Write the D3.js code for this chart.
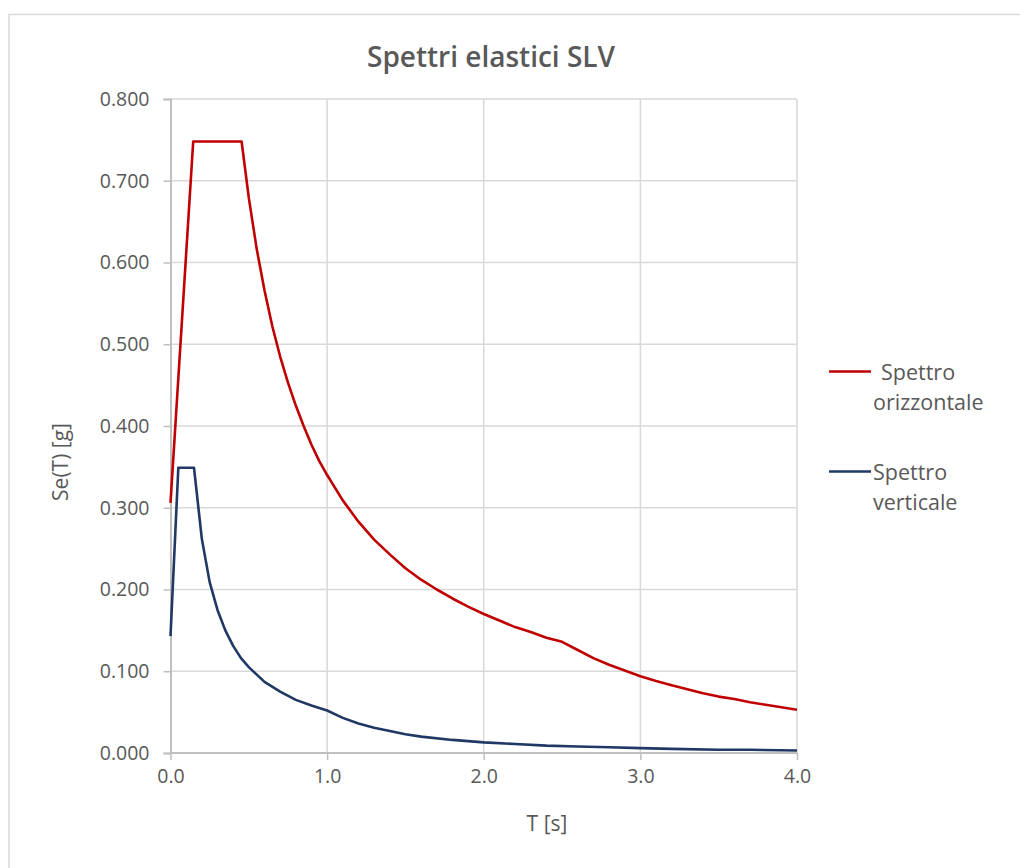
<!DOCTYPE html>
<html>
<head>
<meta charset="utf-8">
<script src="https://cdn.jsdelivr.net/npm/d3@7"></script>
<style>
  body { margin: 0; background: #fff; }
  text { font-family: "Open Sans", "DejaVu Sans", sans-serif; fill: #595959; }
</style>
</head>
<body>
<div id="chart"></div>
<script>
// data
var tOrizz = [0.0, 0.145, 0.454, 0.5, 0.55, 0.6, 0.65, 0.7, 0.75, 0.8, 0.85, 0.9, 0.95, 1.0,
  1.1, 1.2, 1.3, 1.4, 1.5, 1.6, 1.7, 1.8, 1.9, 2.0, 2.1, 2.2, 2.3, 2.4, 2.5,
  2.6, 2.7, 2.8, 2.9, 3.0, 3.1, 3.2, 3.3, 3.4, 3.5, 3.6, 3.7, 3.8, 3.9, 4.0]
var seOrizz = [0.306, 0.748, 0.748, 0.679, 0.617, 0.566, 0.522, 0.485, 0.453, 0.425, 0.400, 0.377, 0.357, 0.340,
  0.309, 0.283, 0.261, 0.243, 0.226, 0.212, 0.200, 0.189, 0.179, 0.170, 0.162, 0.154, 0.148, 0.141, 0.136,
  0.126, 0.116, 0.108, 0.101, 0.094, 0.088, 0.083, 0.078, 0.073, 0.069, 0.066, 0.062, 0.059, 0.056, 0.053]

var tVert = [0.0, 0.05, 0.15, 0.2, 0.25, 0.3, 0.35, 0.4, 0.45, 0.5, 0.6, 0.7, 0.8, 0.9, 1.0,
  1.1, 1.2, 1.3, 1.4, 1.5, 1.6, 1.8, 2.0, 2.2, 2.4, 2.6, 2.8, 3.0, 3.2, 3.5, 3.7, 4.0]
var seVert = [0.143, 0.349, 0.349, 0.262, 0.209, 0.175, 0.150, 0.131, 0.116, 0.105, 0.087, 0.075, 0.065, 0.058, 0.052,
  0.043, 0.036, 0.031, 0.027, 0.023, 0.020, 0.016, 0.013, 0.011, 0.009, 0.008, 0.007, 0.006, 0.005, 0.004, 0.004, 0.003]

var xTicks = [0, 1, 2, 3, 4]
var yTicks = [0, 0.1, 0.2, 0.3, 0.4, 0.5, 0.6, 0.7, 0.8]
var legendText = [["Spettro", "orizzontale"], ["Spettro", "verticale"]]
var seriesColors = ["#c00000", "#1f3864"]

var width = 1020, height = 868
var margin = {top: 99, left: 170.5, right: 223, bottom: 115}

var svg = d3.select("#chart").append("svg")
    .attr("width", width)
    .attr("height", height)

// chart frame
svg.append("rect")
    .attr("x", 9).attr("y", 14.5)
    .attr("width", 1030).attr("height", 880)
    .attr("fill", "none")
    .attr("stroke", "#d9d9d9")
    .attr("stroke-width", 1.5)

var x = d3.scaleLinear().domain([0, 4]).range([margin.left, width - margin.right])
var y = d3.scaleLinear().domain([0, 0.8]).range([height - margin.bottom, margin.top])

// grid
svg.append("g").selectAll("line").data(yTicks.slice(1)).enter()
  .append("line")
    .attr("x1", x(0)).attr("x2", x(4))
    .attr("y1", function(d) { return y(d) }).attr("y2", function(d) { return y(d) })
    .attr("stroke", "#d9d9d9").attr("stroke-width", 1.5)
svg.append("g").selectAll("line").data(xTicks.slice(1)).enter()
  .append("line")
    .attr("x1", function(d) { return x(d) }).attr("x2", function(d) { return x(d) })
    .attr("y1", y(0)).attr("y2", y(0.8))
    .attr("stroke", "#d9d9d9").attr("stroke-width", 1.5)

// axes
var yAxis = svg.append("g")
    .attr("transform", "translate(" + x(0) + ",0)")
    .call(d3.axisLeft(y).tickValues(yTicks).tickFormat(d3.format(".3f")).tickSize(7).tickPadding(14))
var xAxis = svg.append("g")
    .attr("transform", "translate(0," + y(0) + ")")
    .call(d3.axisBottom(x).tickValues(xTicks).tickFormat(d3.format(".1f")).tickSize(7).tickPadding(9))

;[yAxis, xAxis].forEach(function(a) {
  a.select(".domain").attr("stroke", "#bfbfbf").attr("stroke-width", 2)
  a.selectAll(".tick line").attr("stroke", "#bfbfbf").attr("stroke-width", 1.5)
  a.selectAll("text").style("font-size", "19.5px").attr("fill", "#595959")
})
xAxis.select(".domain").attr("d", "M" + x(0) + ",0H" + x(4))

// lines
var line = d3.line()
    .x(function(d) { return x(d[0]) })
    .y(function(d) { return y(d[1]) })

var series = [d3.zip(tOrizz, seOrizz), d3.zip(tVert, seVert)]
series.forEach(function(s, i) {
  svg.append("path")
      .datum(s)
      .attr("d", line)
      .attr("fill", "none")
      .attr("stroke", seriesColors[i])
      .attr("stroke-width", 2.6)
      .attr("stroke-linejoin", "round")
})

// title
svg.append("text")
    .attr("x", 491).attr("y", 67)
    .attr("text-anchor", "middle")
    .style("font-size", "28px")
    .style("font-weight", "600")
    .text("Spettri elastici SLV")

// axis titles
svg.append("text")
    .attr("transform", "translate(68,462) rotate(-90)")
    .attr("text-anchor", "middle")
    .style("font-size", "21px")
    .text("Se(T) [g]")
svg.append("text")
    .attr("x", 547).attr("y", 831)
    .attr("text-anchor", "middle")
    .style("font-size", "21px")
    .text("T [s]")

// legend
var legendY = [371.5, 471.5]
legendY.forEach(function(ly, i) {
  svg.append("line")
      .attr("x1", 829).attr("x2", 871)
      .attr("y1", ly).attr("y2", ly)
      .attr("stroke", seriesColors[i])
      .attr("stroke-width", 2.6)
  var t = svg.append("text")
      .attr("y", ly + 8.5)
      .style("font-size", "21.5px")
  t.append("tspan").attr("x", i == 0 ? 881 : 873).text(legendText[i][0])
  t.append("tspan").attr("x", 873).attr("dy", 29.5).text(legendText[i][1])
})
</script>
</body>
</html>
